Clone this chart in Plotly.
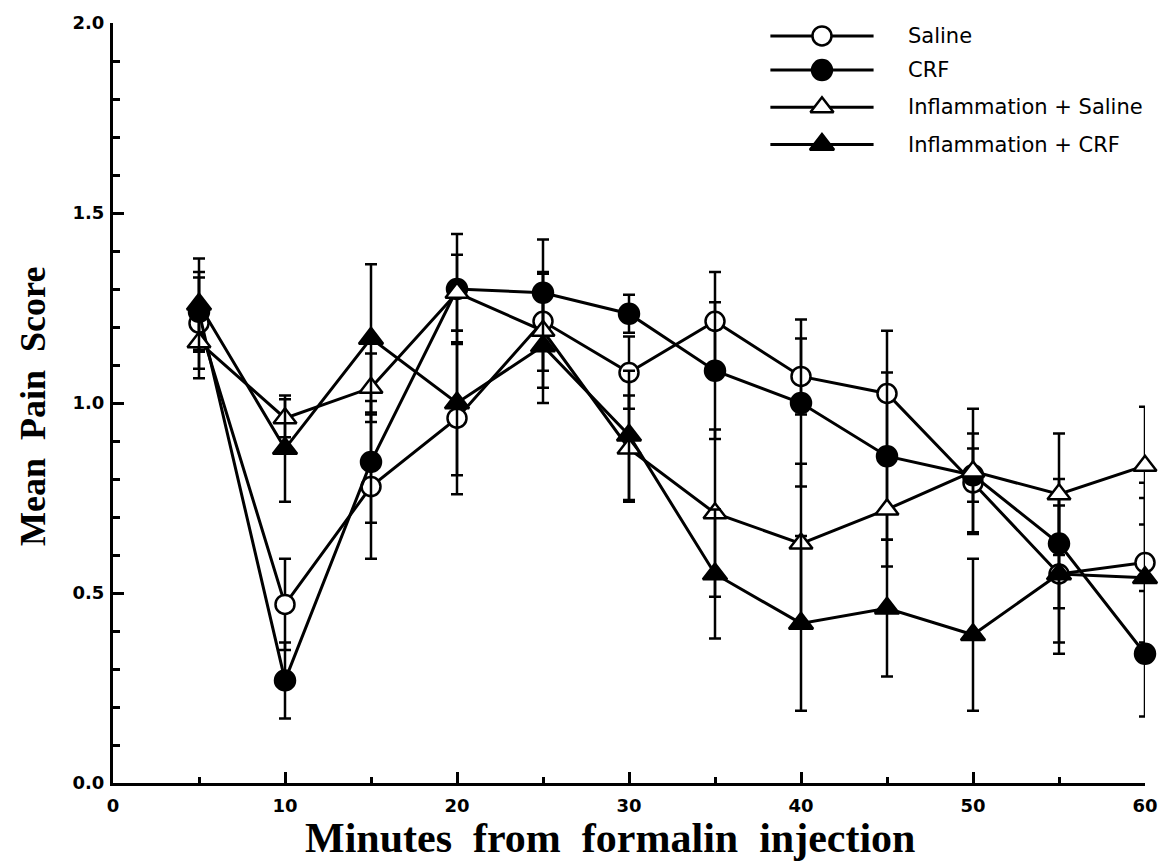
import plotly.graph_objects as go

# Time points (minutes after formalin injection)
minutes = [5, 10, 15, 20, 25, 30, 35, 40, 45, 50, 55, 60]

# Group means and standard errors
saline = [1.21, 0.47, 0.78, 0.96, 1.215, 1.08, 1.215, 1.07, 1.025, 0.79, 0.55, 0.58]
saline_se = [0.12, 0.12, 0.19, 0.20, 0.13, 0.095, 0.13, 0.10, 0.165, 0.13, 0.21, 0.21]

crf = [1.24, 0.27, 0.845, 1.30, 1.29, 1.235, 1.085, 1.00, 0.86, 0.81, 0.63, 0.34]
crf_se = [0.105, 0.10, 0.16, 0.145, 0.14, 0.05, 0.18, 0.22, 0.22, 0.07, 0.17, 0.165]

infl_saline = [1.16, 0.96, 1.04, 1.29, 1.19, 0.88, 0.71, 0.63, 0.72, 0.82, 0.76, 0.835]
infl_saline_se = [0.095, 0.05, 0.09, 0.10, 0.15, 0.14, 0.22, 0.21, 0.15, 0.165, 0.16, 0.155]

infl_crf = [1.26, 0.88, 1.17, 1.00, 1.15, 0.915, 0.55, 0.42, 0.46, 0.39, 0.55, 0.54]
infl_crf_se = [0.12, 0.14, 0.195, 0.19, 0.15, 0.17, 0.17, 0.23, 0.18, 0.20, 0.18, 0.21]

group_names = ["Saline", "CRF", "Inflammation + Saline", "Inflammation + CRF"]

x_ticks = [0, 10, 20, 30, 40, 50, 60]
y_ticks = [0.0, 0.5, 1.0, 1.5, 2.0]
y_tick_text = ["0.0", "0.5", "1.0", "1.5", "2.0"]

series = [
    (group_names[0], saline, saline_se, "circle", "white", 19),
    (group_names[1], crf, crf_se, "circle", "black", 20),
    (group_names[2], infl_saline, infl_saline_se, "triangle-up", "white", 20),
    (group_names[3], infl_crf, infl_crf_se, "triangle-up", "black", 21),
]

fig = go.Figure()

for name, vals, se, sym, fill, size in series:
    fig.add_trace(go.Scatter(
        x=minutes, y=vals, name=name, mode="lines+markers",
        line=dict(color="black", width=3),
        marker=dict(symbol=sym, size=size, color=fill,
                    line=dict(color="black", width=2.5)),
        error_y=dict(type="data", array=se, visible=True,
                     color="black", thickness=2.5, width=6),
        cliponaxis=False, showlegend=False,
    ))

# Key in the upper right: long line sample with the marker in its middle.
# Drawn on a unit overlay axis pair that shares the main plot area.
key_x = [0.637, 0.737]
key_rows = [0.983, 0.938, 0.889, 0.840]
for (name, _, _, sym, fill, size), ry in zip(series, key_rows):
    fig.add_trace(go.Scatter(
        x=key_x, y=[ry, ry], mode="lines",
        line=dict(color="black", width=3),
        xaxis="x2", yaxis="y2", showlegend=False, hoverinfo="skip",
    ))
    fig.add_trace(go.Scatter(
        x=[sum(key_x) / 2], y=[ry], mode="markers",
        marker=dict(symbol=sym, size=size, color=fill,
                    line=dict(color="black", width=2.5)),
        xaxis="x2", yaxis="y2", showlegend=False, hoverinfo="skip",
    ))
    fig.add_annotation(
        x=0.768, y=ry, xref="paper", yref="paper",
        text=name, showarrow=False, xanchor="left", yanchor="middle",
        font=dict(family="DejaVu Sans", size=21, color="black"),
    )

tick_font = dict(family="DejaVu Sans", size=18, color="black", weight="bold")

fig.update_layout(
    width=1170, height=865,
    margin=dict(l=113, r=23, t=22, b=82),
    paper_bgcolor="white", plot_bgcolor="white",
    xaxis=dict(
        range=[0, 60], tickvals=x_ticks, ticks="inside", ticklen=11,
        tickwidth=2.5, tickcolor="black", showline=True, linecolor="black",
        linewidth=3, showgrid=False, zeroline=False, tickfont=tick_font,
        ticklabelstandoff=4,
        minor=dict(dtick=5, ticks="inside", ticklen=6, tickwidth=2.5,
                   tickcolor="black", showgrid=False),
    ),
    yaxis=dict(
        range=[0, 2], tickvals=y_ticks, ticktext=y_tick_text, ticks="inside",
        ticklen=11, tickwidth=2.5, tickcolor="black", showline=True,
        linecolor="black", linewidth=3, showgrid=False, zeroline=False,
        tickfont=tick_font, ticklabelstandoff=2,
        minor=dict(dtick=0.1, ticks="inside", ticklen=7, tickwidth=2.5,
                   tickcolor="black", showgrid=False),
    ),
    xaxis2=dict(range=[0, 1], visible=False, overlaying="x",
                anchor="y2", fixedrange=True),
    yaxis2=dict(range=[0, 1], visible=False, overlaying="y",
                anchor="x2", fixedrange=True),
)

fig.add_annotation(
    x=0.4816, y=-0.072, xref="paper", yref="paper", showarrow=False,
    text="Minutes\u00a0\u00a0from\u00a0\u00a0formalin\u00a0\u00a0injection",
    xanchor="center", yanchor="middle",
    font=dict(family="Liberation Serif", size=42, color="black", weight="bold"),
)
fig.add_annotation(
    x=-0.0774, y=0.495, xref="paper", yref="paper", showarrow=False,
    text="Mean\u00a0\u00a0Pain\u00a0\u00a0Score", textangle=-90,
    xanchor="center", yanchor="middle",
    font=dict(family="Liberation Serif", size=36, color="black", weight="bold"),
)

fig.write_html("out.html")
